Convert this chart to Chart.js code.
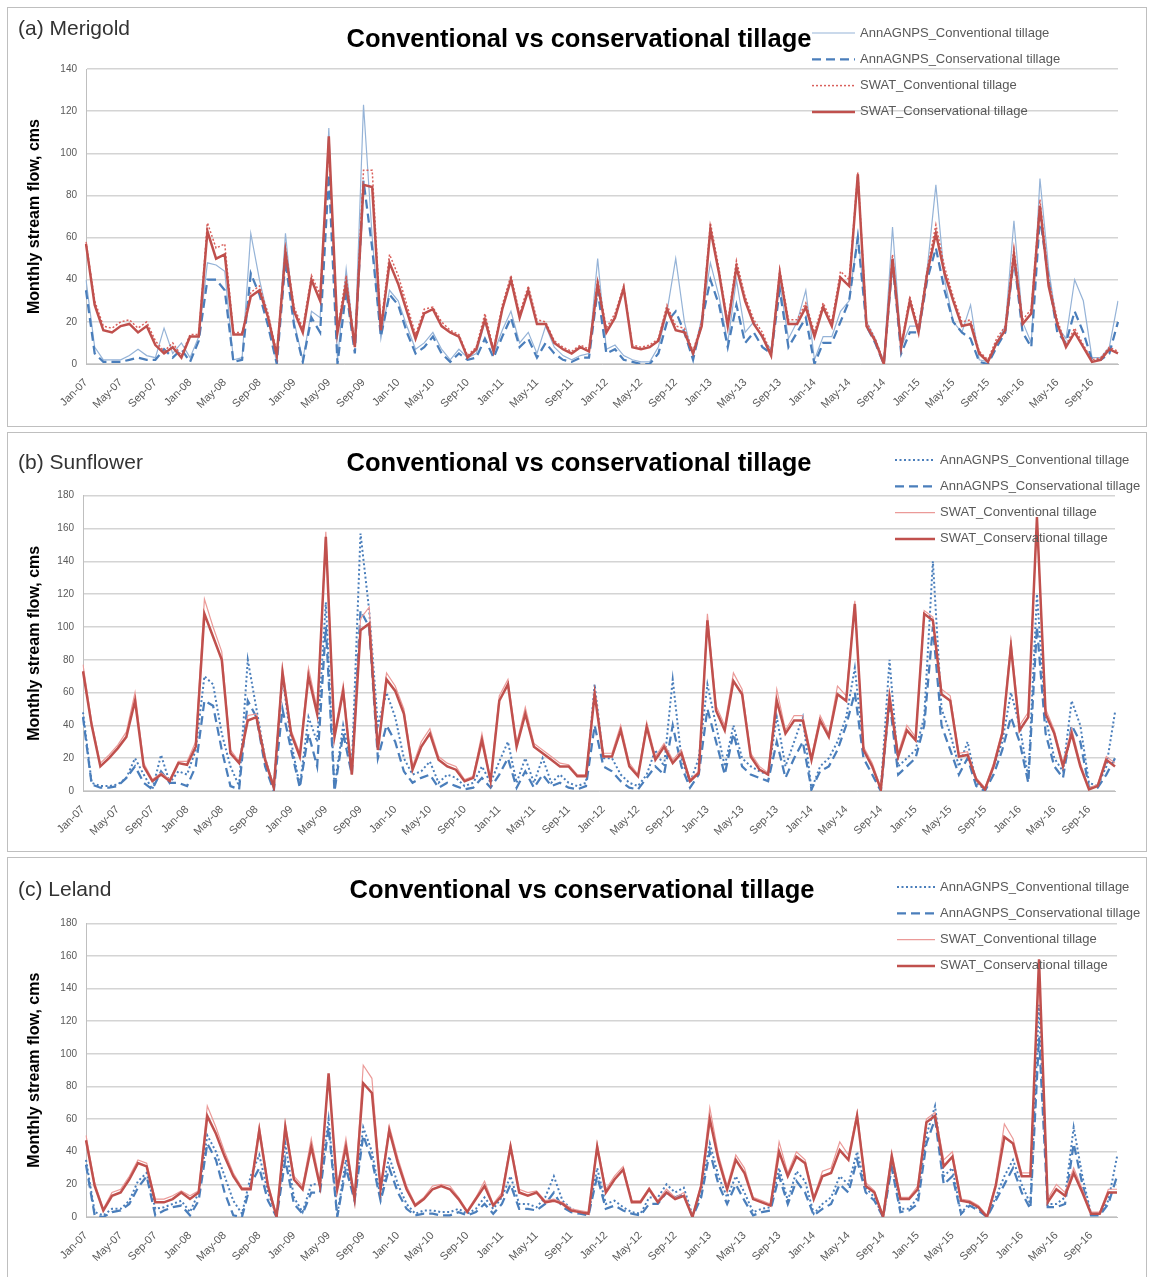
<!DOCTYPE html>
<html>
<head>
<meta charset="utf-8">
<title>Conventional vs conservational tillage</title>
<script src="https://cdn.jsdelivr.net/npm/chart.js@4.4.0/dist/chart.umd.min.js"></script>
<style>
  body { margin: 0; background: #fff; width: 1149px; height: 1277px; overflow: hidden; font-family: "Liberation Sans", Arial, sans-serif; }
  .panel { position: absolute; left: 7px; width: 1138px; border: 1px solid #bfbfbf; background: #fff; }
  .panel canvas { position: absolute; left: 0; top: 0; }
  .tag { position: absolute; left: 10px; font-size: 21px; color: #333; }
</style>
</head>
<body>

<div class="panel" style="top:7px;height:418px;">
  <canvas id="chartA" width="1138" height="418"></canvas>
  <div class="tag" style="top:8px;">(a) Merigold</div>
</div>
<div class="panel" style="top:432px;height:418px;">
  <canvas id="chartB" width="1138" height="418"></canvas>
  <div class="tag" style="top:17px;">(b) Sunflower</div>
</div>
<div class="panel" style="top:857px;height:419px;">
  <canvas id="chartC" width="1138" height="419"></canvas>
  <div class="tag" style="top:19px;">(c) Leland</div>
</div>

<script>
// Categories: monthly, Jan-07 .. Dec-16
const monthNames = ['Jan', 'Feb', 'Mar', 'Apr', 'May', 'Jun', 'Jul', 'Aug', 'Sep', 'Oct', 'Nov', 'Dec'];
const yearCodes = ['07', '08', '09', '10', '11', '12', '13', '14', '15', '16'];
const monthLabels = [];
yearCodes.forEach(y => monthNames.forEach(m => monthLabels.push(m + '-' + y)));

const chartTitle = 'Conventional vs conservational tillage';
const seriesNames = [
  'AnnAGNPS_Conventional tillage',
  'AnnAGNPS_Conservational tillage',
  'SWAT_Conventional tillage',
  'SWAT_Conservational tillage'
];

// (a) Merigold, monthly stream flow (cms)
const merigoldAnnConv = [
  40,8,2,2,2,4,7,4,3,17, 5,10,3,13,48,47,44,2,3,62, 40,22,0,62,20,2,25,22,112,2,
  45,8,123,60,12,35,30,18,7,10, 15,7,2,7,3,5,20,5,16,25, 10,15,5,18,8,4,2,4,5,50,
  7,9,4,2,1,1,8,25,50,20, 3,22,48,32,10,40,15,20,12,7, 38,12,20,35,2,13,13,25,30,62,
  20,12,1,65,8,18,18,45,85,40, 20,15,28,2,1,10,18,68,20,10, 88,45,18,12,40,30,3,3,8,30
];
const merigoldAnnCons = [
  35,5,1,1,1,2,3,2,2,7, 3,7,1,11,40,40,35,1,2,43, 33,18,0,49,18,1,22,15,90,0,
  35,5,87,55,13,33,28,15,5,8, 13,5,1,5,2,3,12,3,13,22, 8,12,3,10,5,2,1,3,3,35,
  5,7,2,1,0,0,5,20,25,15, 2,20,40,28,8,28,10,15,8,5, 35,8,15,22,0,10,10,20,30,60,
  18,10,0,48,5,15,15,40,55,35, 20,15,12,1,0,8,15,50,15,8, 70,40,15,10,25,15,2,2,5,20
];
const merigoldSwatConv = [
  58,30,18,17,20,21,17,20,11,6, 10,4,14,14,67,55,57,15,15,34, 37,24,5,55,27,17,42,33,104,16,
  42,9,92,92,18,52,42,28,14,26, 27,20,16,14,4,8,24,7,28,42, 24,37,21,20,11,8,6,9,7,40,
  17,24,37,9,8,9,12,28,18,17, 6,20,67,45,20,49,32,21,15,5, 45,21,21,29,15,29,20,44,40,91,
  20,12,1,52,9,32,17,45,66,46, 32,20,21,6,2,12,18,55,21,26, 78,40,21,9,17,9,2,3,8,6
];
const merigoldSwatCons = [
  57,28,16,15,18,19,15,18,9,5, 8,3,13,13,63,50,52,14,14,32, 35,22,4,53,25,15,40,30,108,15,
  38,8,85,84,16,48,38,25,12,24, 26,18,15,13,3,7,21,6,26,40, 22,35,19,19,10,7,5,8,6,38,
  15,22,36,8,7,8,11,26,16,15, 5,18,64,43,18,46,30,19,13,4, 43,19,19,27,13,27,18,41,37,90,
  18,11,0,50,8,30,15,43,62,43, 30,18,19,5,1,10,16,52,19,24, 75,37,19,8,15,8,1,2,7,5
];

// (b) Sunflower
const sunflowerAnnConv = [
  48,5,3,3,4,8,20,10,1,22, 5,12,10,25,70,65,35,15,3,80, 50,20,2,70,30,3,45,30,115,2,
  40,15,157,110,40,60,45,20,10,12, 18,5,10,8,3,5,15,5,18,30, 5,20,5,20,5,10,5,3,5,65,
  20,20,10,5,3,10,25,15,68,20, 5,20,65,40,15,40,20,15,12,10, 45,15,30,45,1,15,20,30,45,75,
  25,15,1,80,15,20,25,45,140,50, 35,15,30,5,1,15,30,60,40,8, 120,45,20,12,55,40,5,3,15,48
];
const sunflowerAnnCons = [
  45,4,2,2,3,8,15,5,1,12, 5,5,3,15,55,52,25,3,1,55, 45,15,0,50,25,2,35,15,100,0,
  35,10,110,100,20,40,30,12,5,8, 10,2,5,3,1,2,8,2,10,20, 2,12,2,10,3,5,2,1,3,40,
  15,12,6,2,1,8,15,10,40,15, 2,10,50,30,10,35,15,10,8,6, 30,8,20,30,1,12,15,25,40,60,
  20,10,0,55,10,15,20,40,100,40, 25,10,20,3,0,10,25,45,30,5, 100,35,15,8,40,30,2,2,10,20
];
const sunflowerSwatConv = [
  77,42,17,22,28,36,60,17,7,11, 7,18,18,30,117,100,85,25,18,46, 47,21,3,76,37,23,75,50,158,35,
  65,11,105,112,27,72,64,50,15,30, 38,21,17,15,7,9,35,7,58,68, 29,51,29,25,21,17,16,10,10,62,
  23,23,40,17,10,42,21,29,19,25, 7,12,108,52,40,72,62,23,15,11, 62,37,46,46,21,46,35,64,58,116,
  27,17,2,60,23,40,33,110,106,62, 58,23,24,8,2,17,37,92,40,48, 166,50,37,17,38,17,2,4,21,17
];
const sunflowerSwatCons = [
  73,40,15,20,26,33,55,15,6,10, 6,17,16,27,108,94,80,23,17,43, 45,19,2,72,35,21,70,47,155,33,
  61,10,98,102,25,68,61,47,13,27, 35,19,15,13,6,8,31,6,55,65, 27,47,27,23,19,15,15,9,9,59,
  21,21,37,15,9,39,19,27,17,23, 6,11,104,49,37,67,59,21,13,10, 55,35,43,43,19,43,33,59,55,114,
  25,15,1,57,21,37,31,108,104,59, 55,21,22,7,1,15,35,88,37,45, 167,47,35,15,35,15,1,3,19,15
];

// (c) Leland
const lelandAnnConv = [
  35,3,1,5,5,10,22,27,5,6, 8,10,3,15,50,40,25,10,2,25, 38,15,1,45,12,3,20,20,60,1,
  35,12,55,40,12,37,20,8,2,4, 4,3,3,5,2,5,12,5,12,25, 8,8,6,12,25,10,5,3,2,30,
  8,10,6,3,2,12,12,20,15,18, 1,15,45,25,12,25,15,3,5,6, 30,10,28,22,2,8,12,25,20,40,
  18,12,0,35,5,5,12,50,68,25, 30,2,9,5,0,12,25,35,20,8, 130,8,8,12,55,25,2,2,10,37
];
const lelandAnnCons = [
  32,1,0,3,4,8,18,25,1,4, 6,7,1,10,45,35,15,1,0,20, 30,10,0,35,8,2,15,15,55,0,
  30,10,50,35,10,30,15,5,1,2, 2,1,1,3,1,3,8,2,8,20, 5,5,4,8,15,6,3,2,1,25,
  5,7,4,2,1,8,8,15,12,14, 0,12,40,20,8,20,10,1,3,4, 25,8,22,15,1,5,8,20,15,35,
  15,10,0,30,3,4,8,45,60,20, 25,2,7,4,0,10,20,30,15,5, 110,6,6,8,45,20,1,1,8,25
];
const lelandSwatConv = [
  50,21,5,15,17,25,35,33,11,11, 13,16,13,16,68,55,40,27,18,18, 56,21,1,58,25,19,48,21,86,19,
  48,12,93,85,19,56,36,19,8,12, 19,20,19,12,4,12,22,8,15,45, 17,15,16,10,11,9,5,4,3,45,
  17,25,31,10,10,18,10,17,12,15, 1,20,67,38,19,38,30,12,10,8, 46,27,40,35,12,28,30,46,38,64,
  21,16,1,40,12,12,19,60,64,35, 40,11,10,7,1,21,57,48,27,27, 150,11,20,15,30,17,3,3,17,17
];
const lelandSwatCons = [
  47,19,4,13,15,23,33,31,9,9, 11,15,11,15,62,51,37,25,17,17, 53,19,0,55,23,17,43,19,88,17,
  43,11,82,76,17,53,33,17,7,11, 17,19,17,11,3,11,19,7,13,43, 15,13,15,9,10,8,4,3,2,43,
  15,23,29,9,9,17,9,15,11,13, 0,19,60,35,17,35,27,11,9,7, 40,25,37,33,11,25,27,41,35,62,
  19,15,0,37,11,11,17,58,62,31, 37,10,9,6,0,19,49,45,25,25, 158,9,17,13,27,15,2,2,15,15
];

Chart.defaults.font.family = "'Liberation Sans', Arial, sans-serif";

/**
 * Title and legend drawn inside the chart like the Excel original
 * (legend sits over the plot, one row per series)
 */
const panelText = {
  id: 'panelText',
  afterDraw(chart, args, opts) {
    const ctx = chart.ctx;
    ctx.save();

    // title
    ctx.font = 'bold 25.5px "Liberation Sans", Arial, sans-serif';
    ctx.fillStyle = '#000';
    ctx.textAlign = 'center';
    ctx.textBaseline = 'middle';
    ctx.fillText(chartTitle, opts.titleX, opts.titleY);

    // legend
    ctx.font = '13px "Liberation Sans", Arial, sans-serif';
    ctx.textAlign = 'left';
    chart.data.datasets.forEach((ds, k) => {
      const y = opts.legendY + k * 26.3;
      ctx.strokeStyle = ds.borderColor;
      ctx.lineWidth = ds.borderWidth;
      ctx.setLineDash(ds.borderDash || []);
      ctx.beginPath();
      ctx.moveTo(opts.legendX, y);
      ctx.lineTo(opts.legendX + opts.sampleLen, y);
      ctx.stroke();
      ctx.setLineDash([]);
      ctx.fillStyle = '#595959';
      ctx.fillText(ds.label, opts.legendX + opts.sampleLen + 5, y);
    });
    ctx.restore();
  }
};

function makeChart(canvasId, values, styles, cfg) {
  const datasets = values.map((data, k) => ({
    label: seriesNames[k],
    data: data,
    borderColor: styles[k].color,
    borderWidth: styles[k].width,
    borderDash: styles[k].dash,
    pointRadius: 0,
    tension: 0,
    fill: false,
    order: 4 - k
  }));

  return new Chart(document.getElementById(canvasId), {
    type: 'line',
    data: { labels: monthLabels, datasets: datasets },
    plugins: [panelText],
    options: {
      responsive: false,
      animation: false,
      layout: { padding: { left: 0, right: cfg.padRight, top: cfg.padTop, bottom: 0 } },
      plugins: {
        legend: { display: false },
        tooltip: { enabled: false },
        title: { display: false },
        panelText: cfg.text
      },
      scales: {
        x: {
          grid: { display: false },
          border: { color: '#bfbfbf', width: 1 },
          ticks: {
            autoSkip: false,
            maxRotation: 45,
            minRotation: 45,
            padding: 4,
            color: '#595959',
            font: { size: 11 },
            callback: (v, i) => (i % 4 === 0 ? monthLabels[i] : '')
          },
          afterFit: axis => { axis.height = cfg.xHeight; }
        },
        y: {
          min: 0,
          max: cfg.yMax,
          grid: { color: '#d4d4d4', lineWidth: 1.5, drawTicks: false },
          border: { color: '#bfbfbf', width: 1 },
          ticks: { stepSize: 20, padding: 9, color: '#595959', font: { size: 10 } },
          title: {
            display: true,
            text: 'Monthly stream flow, cms',
            color: '#000',
            font: { size: 16, weight: 'bold' },
            padding: { top: 17, bottom: 0 }
          },
          afterFit: axis => { axis.width = cfg.yWidth; }
        }
      }
    }
  });
}

const stylesA = [
  { color: '#95b3d7', width: 1.2, dash: [] },
  { color: '#4a7ebb', width: 2.25, dash: [9, 5] },
  { color: '#d9605c', width: 1.5, dash: [2, 2] },
  { color: '#c0504d', width: 2.5, dash: [] }
];
const stylesBC = [
  { color: '#4a7ebb', width: 2, dash: [2, 2.5] },
  { color: '#4a7ebb', width: 2.25, dash: [9, 5] },
  { color: '#eb9a98', width: 1.2, dash: [] },
  { color: '#c0504d', width: 2.5, dash: [] }
];

makeChart('chartA',
  [merigoldAnnConv, merigoldAnnCons, merigoldSwatConv, merigoldSwatCons], stylesA,
  { yMax: 140, padRight: 28, padTop: 61, yWidth: 78, xHeight: 62,
    text: { titleX: 571, titleY: 32, legendX: 804, legendY: 25, sampleLen: 43 } });

makeChart('chartB',
  [sunflowerAnnConv, sunflowerAnnCons, sunflowerSwatConv, sunflowerSwatCons], stylesBC,
  { yMax: 180, padRight: 31, padTop: 62.7, yWidth: 75, xHeight: 60,
    text: { titleX: 571, titleY: 31, legendX: 887, legendY: 27, sampleLen: 40 } });

makeChart('chartC',
  [lelandAnnConv, lelandAnnCons, lelandSwatConv, lelandSwatCons], stylesBC,
  { yMax: 180, padRight: 29, padTop: 65.3, yWidth: 78, xHeight: 60,
    text: { titleX: 574, titleY: 33, legendX: 889, legendY: 29, sampleLen: 38 } });
</script>
</body>
</html>
